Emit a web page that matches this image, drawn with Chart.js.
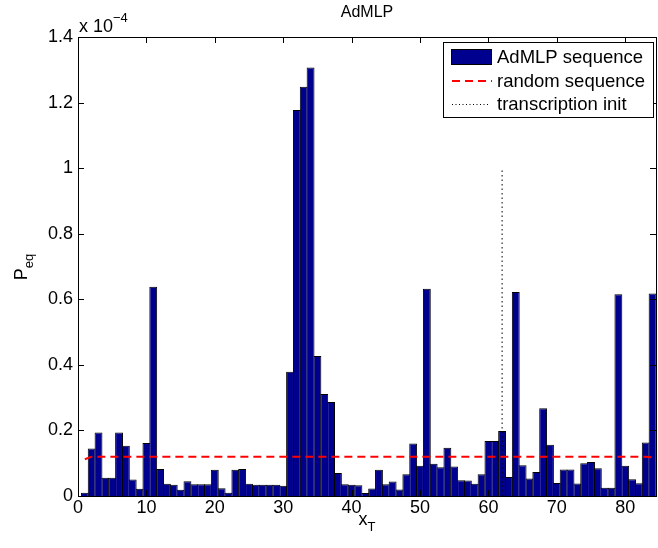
<!DOCTYPE html>
<html><head><meta charset="utf-8">
<script src="https://cdn.jsdelivr.net/npm/chart.js@4/dist/chart.umd.min.js"></script>
<style>html,body{margin:0;padding:0;background:#fff}#wrap{width:658px;height:548px}</style>
</head><body><div id="wrap"><canvas id="c" width="658" height="548"></canvas></div>
<script>
// ---- data (values in units of 1e-4) ----
const chartTitle = 'AdMLP';
const exponentLabel = '\u22124';
const positions = [1,2,3,4,5,6,7,8,9,10,11,12,13,14,15,16,17,18,19,20,21,22,23,24,25,26,27,28,29,30,31,32,33,34,35,36,37,38,39,40,41,42,43,44,45,46,47,48,49,50,51,52,53,54,55,56,57,58,59,60,61,62,63,64,65,66,67,68,69,70,71,72,73,74,75,76,77,78,79,80,81,82,83,84];
const admlpSeq = [0.010,0.145,0.194,0.056,0.056,0.194,0.153,0.050,0.022,0.162,
                  0.638,0.082,0.037,0.034,0.019,0.045,0.036,0.036,0.036,0.080,
                  0.024,0.010,0.080,0.082,0.037,0.034,0.034,0.034,0.034,0.031,
                  0.379,1.177,1.248,1.307,0.427,0.311,0.287,0.070,0.036,0.034,
                  0.033,0.009,0.023,0.080,0.036,0.044,0.020,0.066,0.160,0.092,
                  0.632,0.098,0.088,0.147,0.090,0.048,0.047,0.037,0.066,0.168,
                  0.168,0.198,0.058,0.622,0.094,0.053,0.073,0.268,0.156,0.040,
                  0.081,0.081,0.038,0.100,0.104,0.085,0.025,0.025,0.615,0.092,
                  0.051,0.039,0.163,0.618];
const randomX = [1,2,3,4,5,6,7,8,9,10,11,12,13,14,15,16,17,18,19,20,21,22,23,24,25,26,27,28,29,30,31,32,33,34,35,36,37,38,39,40,41,42,43,44,45,46,47,48,49,50,51,52,53,54,55,56,57,58,59,60,61,62,63,64,65,66,67,68,69,70,71,72,73,74,75,76,77,78,79,80,81,82,83,84,85];
const randomSeq = [0.112,0.120,0.120,0.120,0.120,0.120,0.120,0.120,0.120,0.120,
                   0.120,0.120,0.120,0.120,0.120,0.120,0.120,0.120,0.120,0.120,
                   0.120,0.120,0.120,0.120,0.120,0.120,0.120,0.120,0.120,0.120,
                   0.120,0.120,0.120,0.120,0.120,0.120,0.120,0.120,0.120,0.120,
                   0.120,0.120,0.120,0.120,0.120,0.120,0.120,0.120,0.120,0.120,
                   0.120,0.120,0.120,0.120,0.120,0.120,0.120,0.120,0.120,0.120,
                   0.120,0.120,0.120,0.120,0.120,0.120,0.120,0.120,0.120,0.120,
                   0.120,0.120,0.120,0.120,0.120,0.120,0.120,0.120,0.120,0.120,
                   0.120,0.120,0.120,0.118,0.100];
const initX = [62,62];
const initY = [0,1.0];
const xTicks = [0,10,20,30,40,50,60,70,80];
const xTickLabels = ['0','10','20','30','40','50','60','70','80'];
const yTicks = [0,0.2,0.4,0.6,0.8,1.0,1.2,1.4];
const yTickLabels = ['0','0.2','0.4','0.6','0.8','1','1.2','1.4'];
const seriesNames = ['AdMLP sequence','random sequence','transcription init'];

const FONT = '"Liberation Sans", Arial, Helvetica, sans-serif';

const matlabPlugin = {
  id: 'matlabAxes',
  afterDatasetsDraw(chart) {
    const {ctx, chartArea: a, scales: {x, y}} = chart;
    ctx.save();
    ctx.strokeStyle = '#000';
    ctx.lineWidth = 1;
    ctx.setLineDash([]);
    // inward ticks on all sides
    ctx.beginPath();
    xTicks.forEach(v => {
      const px = Math.round(x.getPixelForValue(v)) + 0.5;
      ctx.moveTo(px, a.bottom); ctx.lineTo(px, a.bottom - 6);
      ctx.moveTo(px, a.top); ctx.lineTo(px, a.top + 6);
    });
    yTicks.forEach(v => {
      const py = Math.round(y.getPixelForValue(v)) + 0.5;
      ctx.moveTo(a.left, py); ctx.lineTo(a.left + 6, py);
      ctx.moveTo(a.right, py); ctx.lineTo(a.right - 6, py);
    });
    ctx.stroke();
    ctx.strokeRect(Math.round(a.left) + 0.5, Math.round(a.top) + 0.5,
                   Math.round(a.right - a.left), Math.round(a.bottom - a.top));

    // tick labels
    ctx.fillStyle = '#000';
    ctx.font = '18px ' + FONT;
    ctx.textAlign = 'center'; ctx.textBaseline = 'top';
    xTicks.forEach((v, i) => ctx.fillText(xTickLabels[i], x.getPixelForValue(v), a.bottom + 3));
    ctx.textAlign = 'right'; ctx.textBaseline = 'middle';
    yTicks.forEach((v, i) => ctx.fillText(yTickLabels[i], a.left - 5, y.getPixelForValue(v)));

    // exponent label
    ctx.textAlign = 'left'; ctx.textBaseline = 'alphabetic';
    ctx.font = '18px ' + FONT;
    ctx.fillText('x 10', a.left + 1, a.top - 5);
    const w = ctx.measureText('x 10').width;
    ctx.font = '13px ' + FONT;
    ctx.fillText(exponentLabel, a.left + 1 + w, a.top - 15);

    // title
    const cx = (a.left + a.right) / 2;
    ctx.font = '16px ' + FONT;
    ctx.textAlign = 'center';
    ctx.fillText(chartTitle, cx, 17);

    // x axis label x_T
    ctx.font = '18px ' + FONT;
    ctx.textAlign = 'left';
    const wx = ctx.measureText('x').width;
    ctx.font = '13px ' + FONT;
    const wt = ctx.measureText('T').width;
    const sx = cx - (wx + wt) / 2;
    ctx.font = '18px ' + FONT;
    ctx.fillText('x', sx, 525);
    ctx.font = '13px ' + FONT;
    ctx.fillText('T', sx + wx, 531);

    // y axis label P_eq
    ctx.save();
    ctx.translate(27, 267);
    ctx.rotate(-Math.PI / 2);
    ctx.font = '18px ' + FONT;
    const wp = ctx.measureText('P').width;
    ctx.font = '13px ' + FONT;
    const we = ctx.measureText('eq').width;
    const sy = -(wp + we) / 2;
    ctx.font = '18px ' + FONT;
    ctx.fillText('P', sy, 0);
    ctx.font = '13px ' + FONT;
    ctx.fillText('eq', sy + wp, 6);
    ctx.restore();

    // legend box
    const ds = chart.data.datasets;
    const lx = 443.5, ly = 42.5, lw = 210, lh = 75;
    ctx.fillStyle = '#fff';
    ctx.fillRect(lx, ly, lw, lh);
    ctx.strokeStyle = '#000'; ctx.lineWidth = 1; ctx.setLineDash([]);
    ctx.strokeRect(lx, ly, lw, lh);
    const rows = [57, 81, 104];
    // bar swatch
    ctx.fillStyle = ds[0].backgroundColor;
    ctx.fillRect(451, 49, 41, 16);
    ctx.strokeStyle = '#000';
    ctx.strokeRect(451.5, 49.5, 40, 15);
    // red dashed
    ctx.beginPath();
    ctx.strokeStyle = ds[1].borderColor; ctx.lineWidth = ds[1].borderWidth;
    ctx.setLineDash(ds[1].borderDash);
    ctx.moveTo(452, rows[1]); ctx.lineTo(492, rows[1]); ctx.stroke();
    // dotted
    ctx.beginPath();
    ctx.strokeStyle = ds[2].borderColor; ctx.lineWidth = ds[2].borderWidth;
    ctx.setLineDash([1, 2.5]);
    ctx.moveTo(452, rows[2] + 0.5); ctx.lineTo(490, rows[2] + 0.5); ctx.stroke();
    ctx.setLineDash([]);
    ctx.fillStyle = '#000';
    ctx.font = '18.5px ' + FONT;
    ctx.textAlign = 'left'; ctx.textBaseline = 'middle';
    ds.forEach((d, i) => ctx.fillText(d.label, 497, rows[i] + 1));
    ctx.restore();
  }
};

new Chart(document.getElementById('c'), {
  type: 'bar',
  data: {
    datasets: [
      {
        type: 'bar', label: seriesNames[0], order: 3,
        data: positions.map((p, i) => ({x: p, y: admlpSeq[i]})),
        backgroundColor: '#00008F', borderColor: '#000', borderWidth: 1,
        borderSkipped: 'start',
        barPercentage: 1.15, categoryPercentage: 1.0
      },
      {
        type: 'line', label: seriesNames[1], order: 2,
        data: randomX.map((p, i) => ({x: p, y: randomSeq[i]})),
        borderColor: '#FF0000', borderWidth: 2, borderDash: [8, 5],
        pointRadius: 0, fill: false, tension: 0
      },
      {
        type: 'line', label: seriesNames[2], order: 1,
        data: initX.map((p, i) => ({x: p, y: initY[i]})),
        borderColor: '#000', borderWidth: 1, borderDash: [1.5, 3],
        pointRadius: 0, fill: false, tension: 0
      }
    ]
  },
  options: {
    responsive: false, animation: false, devicePixelRatio: 1,
    layout: { padding: { left: 78, top: 37, right: 2, bottom: 52 } },
    plugins: { legend: { display: false }, title: { display: false }, tooltip: { enabled: false } },
    scales: {
      x: { type: 'linear', min: 0, max: 84.5, offset: false, display: false, grid: {display: false} },
      y: { type: 'linear', min: 0, max: 1.4, display: false, grid: {display: false} }
    }
  },
  plugins: [matlabPlugin]
});
</script>
</body></html>
